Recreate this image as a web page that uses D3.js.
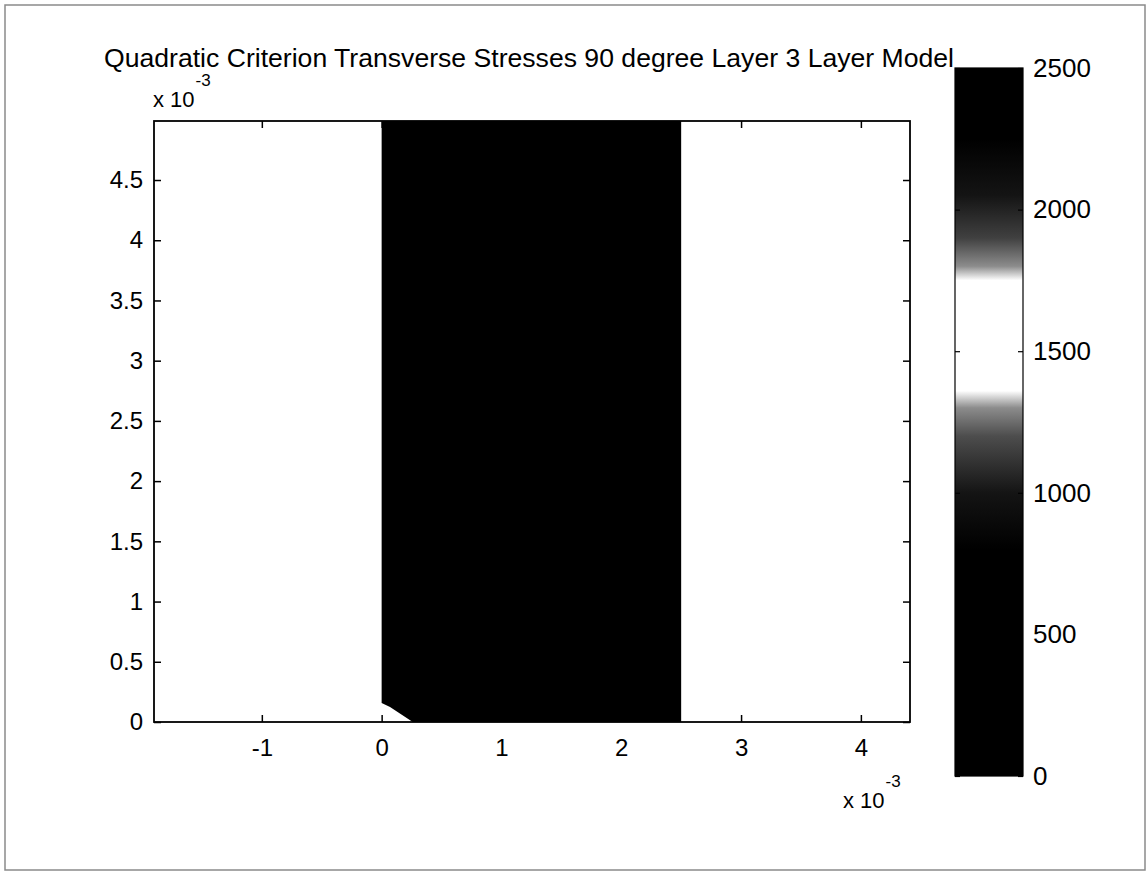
<!DOCTYPE html>
<html>
<head>
<meta charset="utf-8">
<script src="https://cdn.jsdelivr.net/npm/d3@7"></script>
<style>
  body { margin: 0; background: #fff; }
  text { font-family: "Liberation Sans", Arial, sans-serif; fill: #000; }
</style>
</head>
<body>
<svg id="chart" width="1148" height="872"></svg>
<script>
// values in units of 1e-3
var xTicks = [-1, 0, 1, 2, 3, 4];
var yTicks = [0, 0.5, 1, 1.5, 2, 2.5, 3, 3.5, 4, 4.5];
var xDomain = [-1.9, 4.41];
var yDomain = [0, 4.99];
// filled (dark) region of the contour plot
var regionX = [0, 2.5, 2.5, 0.26, 0.07, 0];
var regionY = [4.99, 4.99, 0, 0, 0.125, 0.158];
// colorbar
var cbTicks = [0, 500, 1000, 1500, 2000, 2500];
var cbDomain = [0, 2500];
var cbStopValues = [0, 800, 1000, 1200, 1300, 1360, 1750, 1800, 1900, 2050, 2250, 2500];
var cbStopGray = [0, 0, 0.08, 0.3, 0.55, 1, 1, 0.55, 0.25, 0.08, 0, 0];

var svg = d3.select("#chart");

// figure border
svg.append("rect")
  .attr("x", 5).attr("y", 5).attr("width", 1140).attr("height", 865)
  .attr("fill", "none").attr("stroke", "#8a8a8a").attr("stroke-width", 1.5);

var plot = { left: 154, right: 910, top: 121, bottom: 722 };
var x = d3.scaleLinear().domain(xDomain).range([plot.left, plot.right]);
var y = d3.scaleLinear().domain(yDomain).range([plot.bottom, plot.top]);
var fmt = function (d) { return String(d); };

var g = svg.append("g");

// dark region
var pts = regionX.map(function (d, i) { return [x(d), y(regionY[i])]; });
g.append("path")
  .attr("d", d3.line()(pts) + "Z")
  .attr("fill", "#000");

// axes (ticks inward, box)
var tickLen = 7;
g.append("g")
  .attr("transform", "translate(0," + plot.bottom + ")")
  .call(d3.axisBottom(x).tickValues(xTicks).tickSizeInner(-tickLen).tickSizeOuter(0).tickPadding(17).tickFormat(fmt));
g.append("g")
  .attr("transform", "translate(0," + plot.top + ")")
  .call(d3.axisTop(x).tickValues(xTicks).tickSizeInner(-tickLen).tickSizeOuter(0).tickFormat(""));
g.append("g")
  .attr("transform", "translate(" + plot.left + ",0)")
  .call(d3.axisLeft(y).tickValues(yTicks).tickSizeInner(-tickLen).tickSizeOuter(0).tickPadding(11).tickFormat(fmt));
g.append("g")
  .attr("transform", "translate(" + plot.right + ",0)")
  .call(d3.axisRight(y).tickValues(yTicks).tickSizeInner(-tickLen).tickSizeOuter(0).tickFormat(""));

g.selectAll(".domain").remove();
g.selectAll(".tick line").attr("stroke", "#000").attr("stroke-width", 1.5);
g.selectAll(".tick text").style("font-size", "24px").attr("fill", "#000");

g.append("rect")
  .attr("x", plot.left).attr("y", plot.top)
  .attr("width", plot.right - plot.left).attr("height", plot.bottom - plot.top)
  .attr("fill", "none").attr("stroke", "#000").attr("stroke-width", 1.8);

// exponent labels
function expLabel(px, py) {
  var t = svg.append("text").attr("x", px).attr("y", py).style("font-size", "22px");
  t.append("tspan").text("x 10");
  t.append("tspan").attr("dx", 1).attr("dy", -21).style("font-size", "17px").text("-3");
}
expLabel(153, 107);
expLabel(843, 808);

// title
svg.append("text")
  .attr("x", 529).attr("y", 67)
  .attr("text-anchor", "middle")
  .style("font-size", "26px")
  .attr("textLength", 850)
  .attr("lengthAdjust", "spacingAndGlyphs")
  .text("Quadratic Criterion Transverse Stresses 90 degree Layer 3 Layer Model");

// colorbar
var cb = { left: 955, right: 1023 };
var cy = d3.scaleLinear().domain(cbDomain).range([776, 68]);
var grad = svg.append("defs").append("linearGradient")
  .attr("id", "cbgrad")
  .attr("gradientUnits", "userSpaceOnUse")
  .attr("x1", 0).attr("x2", 0)
  .attr("y1", cy(cbDomain[0])).attr("y2", cy(cbDomain[1]));
grad.selectAll("stop")
  .data(cbStopValues)
  .enter().append("stop")
  .attr("offset", function (d) { return (d - cbDomain[0]) / (cbDomain[1] - cbDomain[0]); })
  .attr("stop-color", function (d, i) { var v = Math.round(cbStopGray[i] * 255); return d3.rgb(v, v, v); });

var cbg = svg.append("g");
cbg.append("rect")
  .attr("x", cb.left).attr("y", cy(cbDomain[1]))
  .attr("width", cb.right - cb.left).attr("height", cy(cbDomain[0]) - cy(cbDomain[1]))
  .attr("fill", "url(#cbgrad)");

cbg.append("g")
  .attr("transform", "translate(" + cb.right + ",0)")
  .call(d3.axisRight(cy).tickValues(cbTicks).tickSizeInner(-5).tickSizeOuter(0).tickPadding(10).tickFormat(fmt));
cbg.append("g")
  .attr("transform", "translate(" + cb.left + ",0)")
  .call(d3.axisLeft(cy).tickValues(cbTicks).tickSizeInner(-5).tickSizeOuter(0).tickFormat(""));
cbg.selectAll(".domain").remove();
cbg.selectAll(".tick line").attr("stroke", "#000").attr("stroke-width", 1.2);
cbg.selectAll(".tick text").style("font-size", "26px").attr("fill", "#000");
cbg.append("rect")
  .attr("x", cb.left).attr("y", cy(cbDomain[1]))
  .attr("width", cb.right - cb.left).attr("height", cy(cbDomain[0]) - cy(cbDomain[1]))
  .attr("fill", "none").attr("stroke", "#000").attr("stroke-width", 1.2);
</script>
</body>
</html>
